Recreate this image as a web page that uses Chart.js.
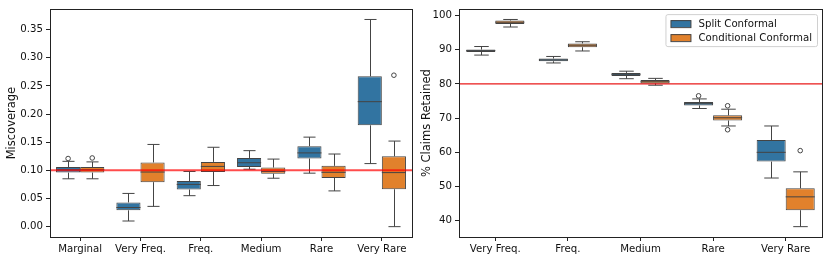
<!DOCTYPE html>
<html>
<head>
<meta charset="utf-8">
<script src="https://cdn.jsdelivr.net/npm/chart.js@4.4.1/dist/chart.umd.min.js"></script>
<style>
  body { margin: 0; background: #fff; }
  #wrap { position: relative; width: 830px; height: 260px; }
  canvas { position: absolute; top: 0; }
</style>
</head>
<body>
<div id="wrap">
  <canvas id="missChart" width="415" height="260" style="left:0"></canvas>
  <canvas id="keepChart" width="415" height="260" style="left:415px"></canvas>
</div>
<script>
// box stats are [lower whisker, q1, median, q3, upper whisker]
const methods = ['Split Conformal', 'Conditional Conformal'];

const missCategories = ['Marginal', 'Very Freq.', 'Freq.', 'Medium', 'Rare', 'Very Rare'];
const missSplit = [
  [0.085, 0.096, 0.101, 0.106, 0.116],
  [0.010, 0.029, 0.034, 0.043, 0.059],
  [0.055, 0.066, 0.075, 0.081, 0.098],
  [0.102, 0.106, 0.1135, 0.122, 0.135],
  [0.095, 0.121, 0.131, 0.143, 0.159],
  [0.112, 0.180, 0.222, 0.267, 0.368]
];
const missCond = [
  [0.085, 0.096, 0.101, 0.106, 0.115],
  [0.036, 0.079, 0.097, 0.114, 0.146],
  [0.073, 0.097, 0.107, 0.115, 0.141],
  [0.086, 0.094, 0.098, 0.105, 0.120],
  [0.0635, 0.0865, 0.0965, 0.108, 0.129],
  [0.000, 0.0665, 0.096, 0.125, 0.152]
];
const missSplitOut = [[0.121], [], [], [], [], []];
const missCondOut = [[0.122], [], [], [], [], [0.269]];
const missTicks = [0, 0.05, 0.10, 0.15, 0.20, 0.25, 0.30, 0.35];
const missTarget = 0.10;

const keepCategories = ['Very Freq.', 'Freq.', 'Medium', 'Rare', 'Very Rare'];
const keepSplit = [
  [88.4, 89.3, 89.7, 90.0, 90.9],
  [86.1, 86.6, 87.0, 87.4, 88.0],
  [81.5, 82.3, 82.8, 83.2, 83.7],
  [72.8, 73.7, 74.2, 74.7, 75.6],
  [52.5, 57.3, 60.0, 63.6, 67.7]
];
const keepCond = [
  [96.6, 97.5, 98.0, 98.5, 98.8],
  [89.6, 90.7, 91.3, 91.8, 92.3],
  [79.6, 80.1, 80.6, 81.1, 81.6],
  [67.7, 69.3, 70.1, 70.8, 72.6],
  [38.3, 43.1, 47.0, 49.5, 54.3]
];
const keepSplitOut = [[], [], [], [76.5], []];
const keepCondOut = [[], [], [], [73.6, 66.6], [60.5]];
const keepTicks = [40, 50, 60, 70, 80, 90, 100];
const keepTarget = 80;

const colors = ['#3274a1', '#e1812c'];
const edge = '#444444';
const FONT = '"DejaVu Sans", sans-serif';
const TEXT = '#111';

Chart.defaults.font.family = FONT;
Chart.defaults.font.size = 10.2;
Chart.defaults.color = TEXT;

// matplotlib style 5% margins around all data
function limits(stats, outs) {
  let lo = Infinity, hi = -Infinity;
  stats.forEach(list => list.forEach(s => { lo = Math.min(lo, s[0]); hi = Math.max(hi, s[4]); }));
  outs.forEach(list => list.forEach(o => o.forEach(v => { lo = Math.min(lo, v); hi = Math.max(hi, v); })));
  const m = (hi - lo) * 0.05;
  return [lo - m, hi + m];
}

function line(ctx, x1, y1, x2, y2) {
  ctx.beginPath();
  ctx.moveTo(x1, y1);
  ctx.lineTo(x2, y2);
  ctx.stroke();
}

// whiskers behind the boxes, medians and fliers on top
const boxPlugin = {
  id: 'boxWhiskers',
  beforeDatasetsDraw(chart) {
    const ctx = chart.ctx, y = chart.scales.y;
    chart.data.datasets.forEach((ds, di) => {
      chart.getDatasetMeta(di).data.forEach((bar, i) => {
        const s = ds.stats[i], x = Math.round(bar.x) + 0.5, cap = bar.width / 4;
        ctx.save();
        ctx.strokeStyle = edge;
        ctx.lineWidth = 1;
        line(ctx, x, y.getPixelForValue(s[3]), x, y.getPixelForValue(s[4]));
        line(ctx, x, y.getPixelForValue(s[1]), x, y.getPixelForValue(s[0]));
        line(ctx, x - cap, y.getPixelForValue(s[4]), x + cap, y.getPixelForValue(s[4]));
        line(ctx, x - cap, y.getPixelForValue(s[0]), x + cap, y.getPixelForValue(s[0]));
        ctx.restore();
      });
    });
  },
  afterDatasetsDraw(chart) {
    const ctx = chart.ctx, y = chart.scales.y;
    chart.data.datasets.forEach((ds, di) => {
      chart.getDatasetMeta(di).data.forEach((bar, i) => {
        const s = ds.stats[i], x = bar.x, half = bar.width / 2;
        ctx.save();
        ctx.strokeStyle = edge;
        ctx.lineWidth = 1;
        line(ctx, x - half, y.getPixelForValue(s[2]), x + half, y.getPixelForValue(s[2]));
        ds.outliers[i].forEach(v => {
          ctx.beginPath();
          ctx.arc(x, y.getPixelForValue(v), 2.3, 0, Math.PI * 2);
          ctx.fillStyle = '#fff';
          ctx.fill();
          ctx.stroke();
        });
        ctx.restore();
      });
    });
  },
  afterDraw(chart, args, opts) {
    const ctx = chart.ctx, a = chart.chartArea, y = chart.scales.y;
    // target line
    const ty = y.getPixelForValue(opts.target);
    ctx.save();
    ctx.strokeStyle = opts.targetColor;
    ctx.lineWidth = opts.targetWidth;
    line(ctx, a.left, ty, a.right, ty);
    // frame
    ctx.strokeStyle = '#222';
    ctx.lineWidth = 1;
    ctx.strokeRect(Math.round(a.left) + 0.5, Math.round(a.top) + 0.5,
      Math.round(a.right - a.left), Math.round(a.bottom - a.top));
    ctx.restore();

    if (!opts.legend) return;
    ctx.save();
    ctx.font = '10.2px ' + FONT;
    const textW = Math.max(...methods.map(m => ctx.measureText(m).width));
    const w = 5 + 20 + 8 + textW + 5, h = 32;
    const lx = a.right - 5 - w, ly = a.top + 5;
    ctx.beginPath();
    ctx.roundRect(lx + 0.5, ly + 0.5, w, h, 2);
    ctx.fillStyle = 'rgba(255,255,255,0.8)';
    ctx.fill();
    ctx.strokeStyle = '#d0d0d0';
    ctx.stroke();
    methods.forEach((m, i) => {
      const cy = ly + 9 + i * 14;
      ctx.fillStyle = colors[i];
      ctx.fillRect(lx + 5.5, cy - 3, 20, 7);
      ctx.strokeStyle = edge;
      ctx.strokeRect(lx + 5.5, cy - 3 + 0.5, 20, 7);
      ctx.fillStyle = TEXT;
      ctx.textBaseline = 'middle';
      ctx.fillText(m, lx + 33, cy + 1);
    });
    ctx.restore();
  }
};

function makeChart(id, cats, split, cond, splitOut, condOut, ticks, target, label, axisW, rightPad, lineOpts, legend, fmt) {
  const [ymin, ymax] = limits([split, cond], [splitOut, condOut]);
  const sets = [split, cond].map((stats, k) => ({
    label: methods[k],
    data: stats.map(s => [s[1], s[3]]),
    stats: stats,
    outliers: k === 0 ? splitOut : condOut,
    backgroundColor: colors[k],
    borderColor: edge,
    borderWidth: 1,
    borderSkipped: false,
    categoryPercentage: 0.8,
    barPercentage: 1.0
  }));
  return new Chart(document.getElementById(id), {
    type: 'bar',
    data: { labels: cats, datasets: sets },
    options: {
      responsive: false,
      animation: false,
      events: [],
      layout: { padding: { top: 7, right: rightPad, left: 0, bottom: 0 } },
      plugins: {
        legend: { display: false },
        tooltip: { enabled: false },
        boxWhiskers: { target: target, targetColor: lineOpts.color, targetWidth: lineOpts.width, legend: legend }
      },
      scales: {
        x: {
          offset: true,
          grid: { display: true, offset: false, drawOnChartArea: false, tickLength: 4, color: '#222' },
          border: { display: false },
          ticks: { padding: 2, maxRotation: 0, autoSkip: false, color: TEXT },
          afterFit: s => { s.height = 23; }
        },
        y: {
          min: ymin,
          max: ymax,
          grid: { display: true, drawOnChartArea: false, tickLength: 4, color: '#222' },
          border: { display: false },
          ticks: { padding: 3, color: TEXT, callback: v => fmt(v) },
          afterBuildTicks: s => { s.ticks = ticks.map(v => ({ value: v })); },
          afterFit: s => { s.width = axisW; },
          title: { display: true, text: label, font: { size: 11.5 }, color: TEXT, padding: { top: 5, bottom: 2 } }
        }
      }
    },
    plugins: [boxPlugin]
  });
}

makeChart('missChart', missCategories, missSplit, missCond, missSplitOut, missCondOut,
  missTicks, missTarget, 'Miscoverage', 50, 3,
  { color: 'rgba(255,0,0,0.7)', width: 2 }, false, v => v.toFixed(2));

makeChart('keepChart', keepCategories, keepSplit, keepCond, keepSplitOut, keepCondOut,
  keepTicks, keepTarget, '% Claims Retained', 44, 8,
  { color: 'rgba(230,0,0,0.9)', width: 1.2 }, true, v => String(v));
</script>
</body>
</html>
